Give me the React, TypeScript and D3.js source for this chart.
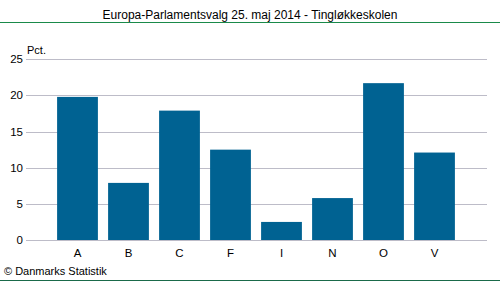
import React from "react";
import * as d3 from "d3";

const categories = ["A", "B", "C", "F", "I", "N", "O", "V"];
const values = [19.8, 7.9, 17.9, 12.5, 2.5, 5.8, 21.7, 12.1];
const yTicks = [0, 5, 10, 15, 20, 25];
const title = "Europa-Parlamentsvalg 25. maj 2014 - Tingløkkeskolen";
const yUnit = "Pct.";
const footer = "© Danmarks Statistik";

export default function App() {
  const W = 500, H = 282;
  const x = d3.scaleBand<string>().domain(categories).range([52, 460]).paddingInner(0.2).paddingOuter(0.1);
  const y = d3.scaleLinear().domain([0, 25]).range([240, 59.3]);
  const font = "'Liberation Sans', Arial, sans-serif";
  return (
    <svg width={W} height={H} style={{ position: "absolute", left: 0, top: 0, background: "#fff" }} fontFamily={font}>
      <text x={250} y={19} textAnchor="middle" fontSize={12} fill="#000">{title}</text>
      <line x1={0} x2={W} y1={22.5} y2={22.5} stroke="#1a8a4a" strokeWidth={1} />
      {yTicks.map((t) => (
        <g key={t}>
          <line x1={26} x2={487} y1={Math.round(y(t)) + 0.5} y2={Math.round(y(t)) + 0.5} stroke="#bdbcc8" strokeWidth={1} />
          <text x={23} y={y(t) + 4} textAnchor="end" fontSize={11.5} fill="#000">{t}</text>
        </g>
      ))}
      <text x={27} y={54} fontSize={11} fill="#000">{yUnit}</text>
      {categories.map((c, i) => (
        <rect key={c} x={x(c)} y={y(values[i])} width={x.bandwidth()} height={y(0) - y(values[i])} fill="#006292" />
      ))}
      {categories.map((c) => (
        <text key={c} x={(x(c) as number) + x.bandwidth() / 2} y={257} textAnchor="middle" fontSize={11.5} fill="#000">{c}</text>
      ))}
      <text x={4} y={275} fontSize={11} fill="#000">{footer}</text>
      <line x1={0} x2={W} y1={280.5} y2={280.5} stroke="#1a6a4a" strokeWidth={1} />
    </svg>
  );
}
